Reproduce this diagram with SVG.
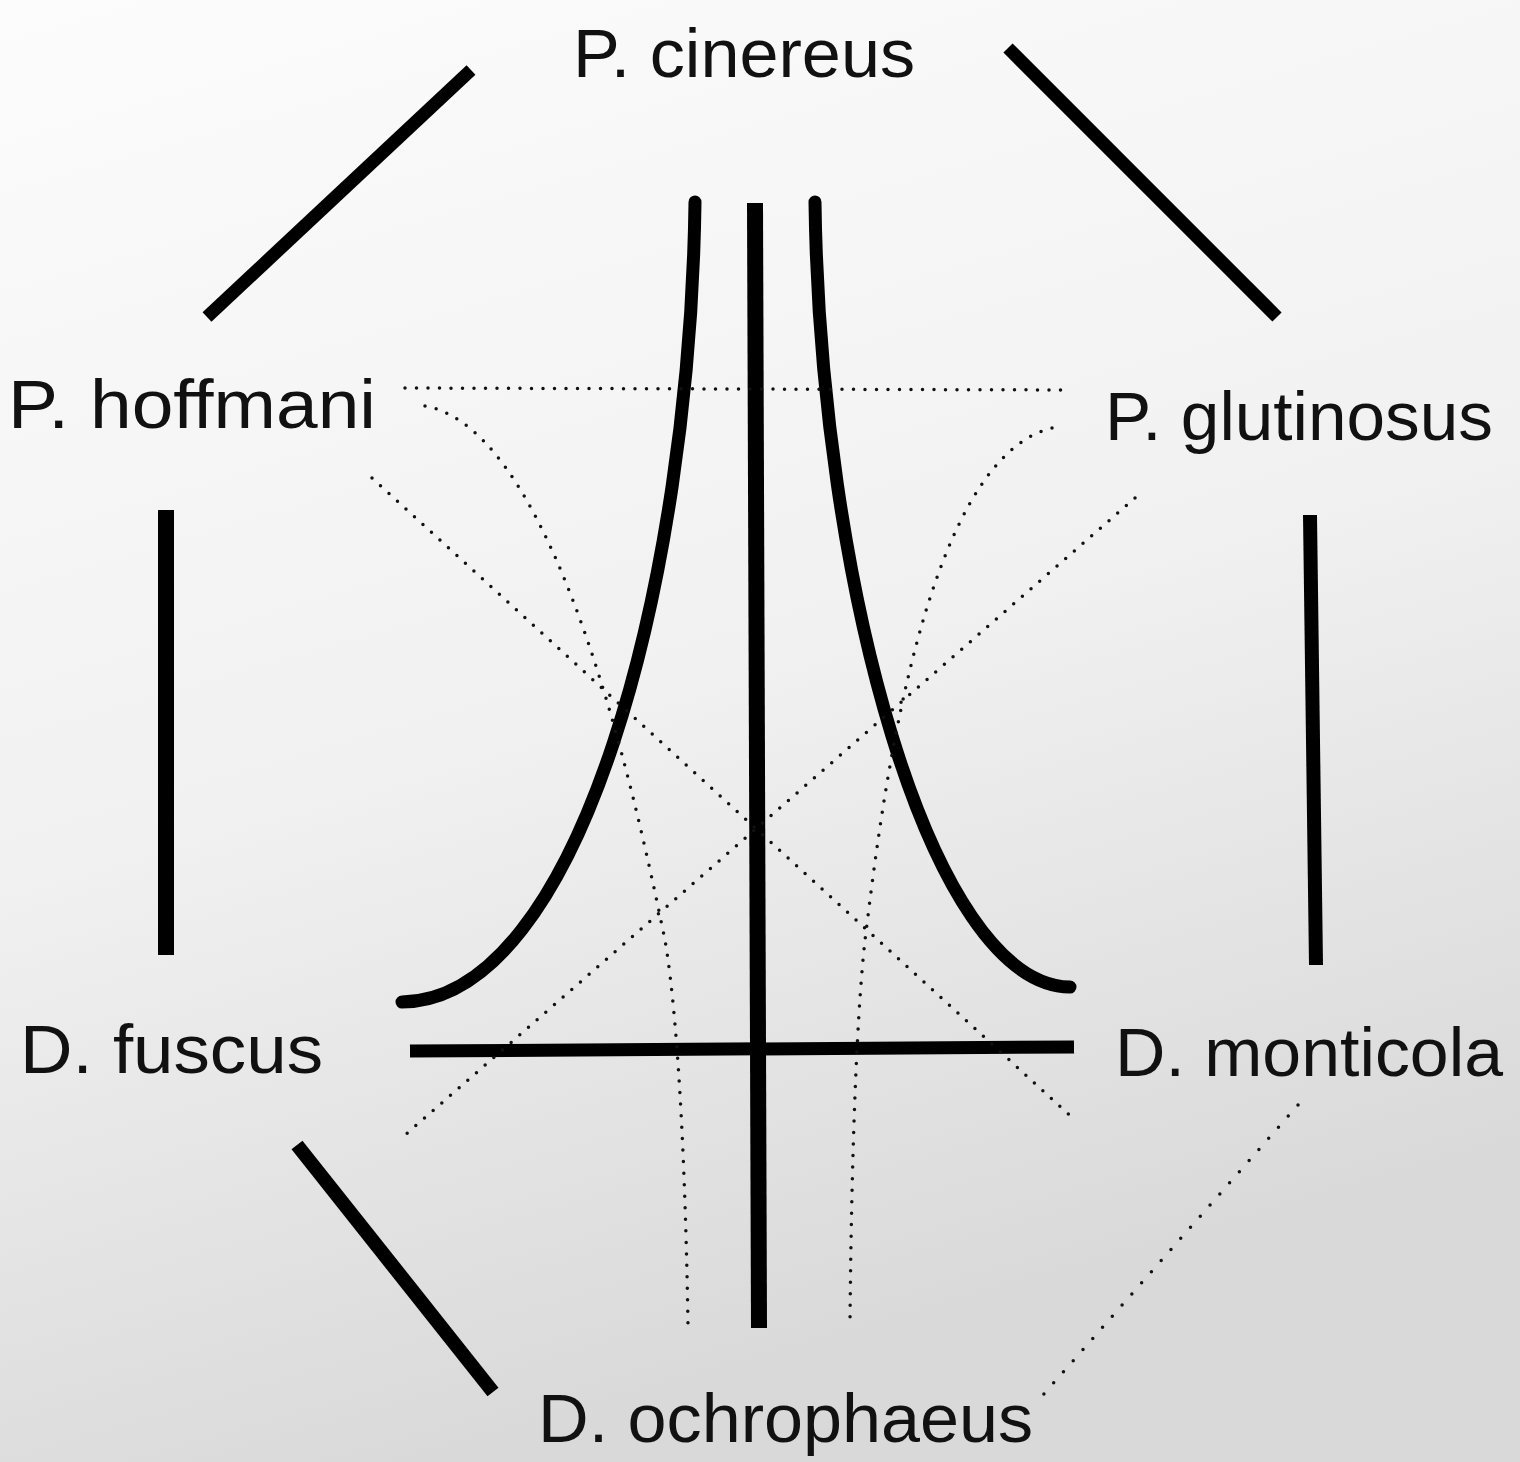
<svg xmlns="http://www.w3.org/2000/svg" width="1520" height="1462" viewBox="0 0 1520 1462">
<defs>
<linearGradient id="bg" x1="0" y1="0" x2="0.3" y2="1">
<stop offset="0" stop-color="#fcfcfc"/>
<stop offset="0.55" stop-color="#f1f1f1"/>
<stop offset="1" stop-color="#d9d9d9"/>
</linearGradient>
<style>
.lbl{font-family:"Liberation Sans",Arial,sans-serif;font-size:68px;fill:#111}
.thick{stroke:#000;stroke-width:13;fill:none;stroke-linecap:butt}
.curve{stroke:#000;stroke-width:13;fill:none;stroke-linecap:round}
.dot{stroke:#111;stroke-width:3.5;fill:none;stroke-linecap:round;stroke-dasharray:0 11.5}
</style>
</defs>
<rect width="1520" height="1462" fill="url(#bg)"/>
<g id="connectors">
<line class="thick" x1="471" y1="70" x2="207" y2="317"/>
<line class="thick" x1="1008" y1="48" x2="1277" y2="317"/>
<line class="thick" x1="166" y1="510" x2="166" y2="955" style="stroke-width:16"/>
<line class="thick" x1="1310" y1="515" x2="1316" y2="965" style="stroke-width:14"/>
<line class="thick" x1="297" y1="1145" x2="493" y2="1392" style="stroke-width:14"/>
<line class="thick" x1="410" y1="1051" x2="1074" y2="1047"/>
<line class="thick" x1="755" y1="203" x2="759" y2="1328" style="stroke-width:16"/>
<path class="curve" d="M695,202 C690,580 580,1000 402,1002"/>
<path class="curve" d="M815,202 C820,580 930,985 1070,987"/>
<line class="dot" x1="405" y1="388" x2="1068" y2="390"/>
<path class="dot" d="M425,406 C560,430 640,820 665,940 C680,1030 686,1200 688,1325"/>
<path class="dot" d="M1052,428 C920,460 880,820 865,940 C855,1030 851,1200 850,1322"/>
<line class="dot" x1="372" y1="478" x2="1075" y2="1120"/>
<line class="dot" x1="1135" y1="498" x2="405" y2="1135"/>
<line class="dot" x1="1298" y1="1105" x2="1043" y2="1395" style="stroke-dasharray:0 14.8"/>
</g>
<g id="n-cinereus"><text class="lbl" x="573" y="77" textLength="342" lengthAdjust="spacingAndGlyphs">P. cinereus</text></g>
<g id="n-hoffmani"><text class="lbl" x="8" y="428" textLength="368" lengthAdjust="spacingAndGlyphs">P. hoffmani</text></g>
<g id="n-glutinosus"><text class="lbl" x="1105" y="440" textLength="388" lengthAdjust="spacingAndGlyphs">P. glutinosus</text></g>
<g id="n-fuscus"><text class="lbl" x="20" y="1073" textLength="303" lengthAdjust="spacingAndGlyphs">D. fuscus</text></g>
<g id="n-monticola"><text class="lbl" x="1115" y="1076" textLength="388" lengthAdjust="spacingAndGlyphs">D. monticola</text></g>
<g id="n-ochrophaeus"><text class="lbl" x="538" y="1442" textLength="495" lengthAdjust="spacingAndGlyphs">D. ochrophaeus</text></g>
</svg>
